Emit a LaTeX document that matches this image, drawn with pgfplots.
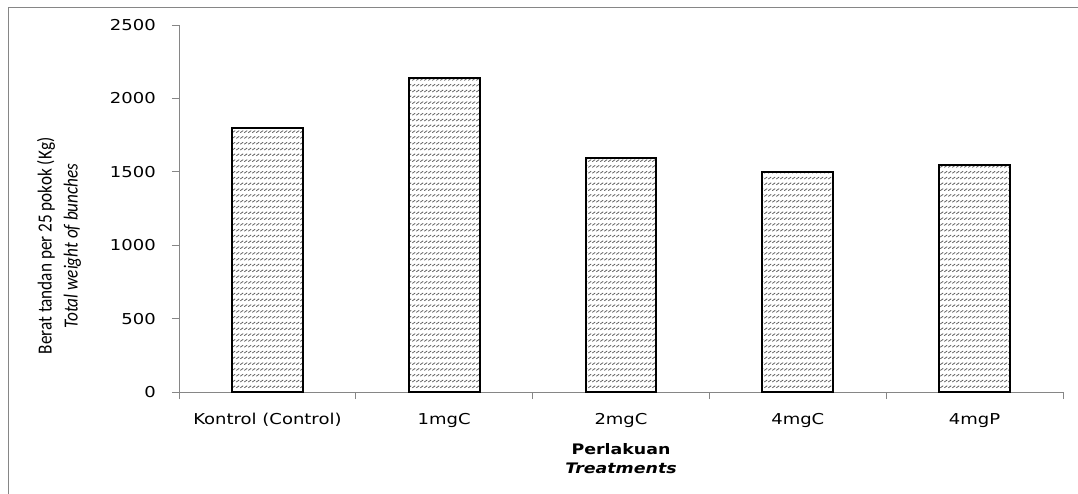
\documentclass[border=0pt]{standalone}
\usepackage{fontspec}
\usepackage{pgfplots}
\usepackage{pgfplotstable}
\pgfplotsset{compat=1.18}
\usetikzlibrary{patterns}
\newfontfamily\tickfont[FakeStretch=1.2]{DejaVu Sans}
\newfontfamily\labfont[FakeStretch=0.86]{Carlito}
\definecolor{axgray}{RGB}{134,134,134}
\pgfdeclarepatternformonly{dslash}{\pgfpoint{-1pt}{-1pt}}{\pgfpoint{5pt}{7pt}}{\pgfpoint{4pt}{5.8pt}}{%
  \pgfsetlinewidth{0.8pt}%
  \pgfpathmoveto{\pgfpoint{0.3pt}{0.8pt}}%
  \pgfpathlineto{\pgfpoint{3.2pt}{2.8pt}}%
  \pgfusepath{stroke}}
\pgfplotstableread{
x y
0 1800
1 2140
2 1595
3 1500
4 1545
}\datatable
\begin{document}
\begin{tikzpicture}
\draw[axgray, line width=1.5pt] (8.5pt,-20pt) |- (1100pt,485.7pt);
\begin{axis}[
  at={(179pt,101pt)}, anchor=south west,
  scale only axis, width=884pt, height=367pt,
  xmin=-0.5, xmax=4.5, ymin=0, ymax=2500,
  axis x line*=bottom, axis y line*=left,
  axis line style={-, axgray, line width=1pt},
  tick align=outside, major tick length=7pt,
  tick style={axgray, line width=1pt},
  xtick={-0.5,0.5,1.5,2.5,3.5,4.5}, xticklabel=\empty,
  extra x ticks={0,1,2,3,4},
  extra x tick labels={Kontrol (Control),1mgC,2mgC,4mgC,4mgP},
  extra x tick style={tick style={draw=none}},
  ytick={0,500,...,2500},
  scaled y ticks=false,
  /pgf/number format/1000 sep={},
  /pgf/number format/assume math mode=true,
  yticklabel style={font=\tickfont\fontsize{15}{18}\selectfont, inner sep=0pt, anchor=east, xshift=-16pt},
  xticklabel style={font=\tickfont\fontsize{15}{18}\selectfont, inner sep=0pt, anchor=base, yshift=-25pt},
  xlabel={\textbf{Perlakuan}\\\textbf{\textit{Treatments}}},
  xlabel style={font=\tickfont\fontsize{14.5}{19}\selectfont, align=center, inner sep=0pt, anchor=north, at={(axis description cs:0.5,-0.14)}},
  ylabel={Berat tandan per 25 pokok (Kg)\\\textit{Total weight of bunches}},
  ylabel style={font=\labfont\fontsize{20}{26}\selectfont, align=center, inner sep=0pt, anchor=center, rotate=0, at={(axis description cs:-0.1357,0.398)}},
]
\addplot[ybar, bar width=0.4, draw=black, line width=2pt, pattern=dslash, pattern color=black!62] table[x=x,y=y] {\datatable};
\end{axis}
\pgfresetboundingbox
\path[use as bounding box] (0,0) rectangle (1078pt,493pt);
\end{tikzpicture}
\end{document}
